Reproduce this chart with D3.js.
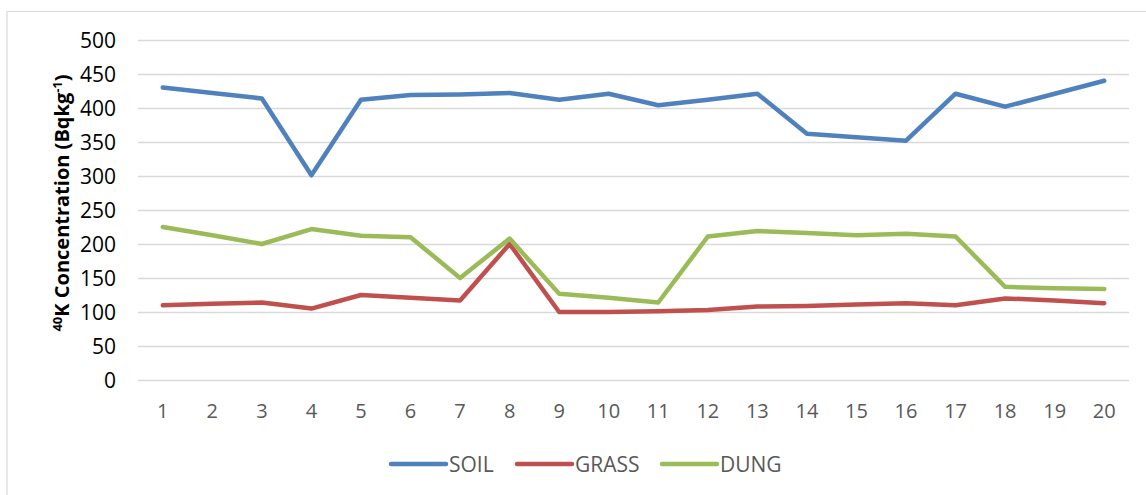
<!DOCTYPE html>
<html>
<head>
<meta charset="utf-8">
<script src="https://cdn.jsdelivr.net/npm/d3@7"></script>
<style>
  html, body { margin: 0; padding: 0; background: #fff; }
  svg { display: block; }
  text { font-family: "Open Sans", "Liberation Sans", sans-serif; }
</style>
</head>
<body>
<svg id="chart" width="1146" height="495"></svg>
<script>
const categories = [1,2,3,4,5,6,7,8,9,10,11,12,13,14,15,16,17,18,19,20];
const soil  = [430,422,414,301,412,419,420,422,412,421,404,412,421,362,357,352,421,402,421,440];
const grass = [110,112,114,105,125,121,117,200,100,100,101,103,108,109,111,113,110,120,117,113];
const dung  = [225,213,200,222,212,210,150,208,127,121,114,211,219,216,213,215,211,137,135,134];
const yTicks = [0,50,100,150,200,250,300,350,400,450,500];
const seriesNames = ["SOIL","GRASS","DUNG"];
const seriesColors = ["#4F81BD","#C0504D","#9BBB59"];
const seriesData = [soil, grass, dung];

const svg = d3.select("#chart");
const W = 1146, H = 495;
const plot = {left: 138, right: 1129, top: 40, bottom: 380};

// chart border (left & top visible)
svg.append("rect").attr("x", 7).attr("y", 11.5).attr("width", 1160).attr("height", 500)
  .attr("fill", "none").attr("stroke", "#D9D9D9").attr("stroke-width", 1.2);

const x = d3.scaleBand().domain(categories).range([plot.left, plot.right]);
const y = d3.scaleLinear().domain([0, 500]).range([plot.bottom, plot.top]);

// gridlines
const yAxis = d3.axisLeft(y).tickValues(yTicks).tickSize(-(plot.right - plot.left)).tickPadding(22);
const gy = svg.append("g").attr("transform", `translate(${plot.left},0)`).call(yAxis);
gy.select(".domain").remove();
gy.selectAll(".tick line").attr("stroke", "#D9D9D9").attr("stroke-width", 1.3);
gy.selectAll(".tick text").attr("fill", "#000").style("font-size", "21px").attr("dy", "0.36em");

const xAxis = d3.axisBottom(x).tickSize(0).tickPadding(24);
const gx = svg.append("g").attr("transform", `translate(0,${plot.bottom})`).call(xAxis);
gx.select(".domain").remove();
gx.selectAll(".tick text").attr("fill", "#595959").style("font-size", "20px");

// lines
const line = d3.line().x((d, i) => x(categories[i]) + x.bandwidth() / 2).y(d => y(d));
seriesData.forEach((s, k) => {
  svg.append("path").datum(s).attr("d", line)
    .attr("fill", "none").attr("stroke", seriesColors[k]).attr("stroke-width", 4.5)
    .attr("stroke-linejoin", "round").attr("stroke-linecap", "round");
});

// y axis title
const title = svg.append("text")
  .attr("transform", `translate(69,${(plot.top + plot.bottom) / 2 - 7}) rotate(-90)`)
  .attr("text-anchor", "middle").style("font-size", "20px").style("font-weight", "bold").attr("fill", "#000");
title.append("tspan").text("40").style("font-size", "13px").attr("dy", "-7");
title.append("tspan").text("K Concentration (Bqkg").attr("dy", "7");
title.append("tspan").text("-1").style("font-size", "13px").attr("dy", "-7");
title.append("tspan").text(")").attr("dy", "7");

// legend
const legendItems = [
  {name: seriesNames[0], color: seriesColors[0], x0: 391},
  {name: seriesNames[1], color: seriesColors[1], x0: 517},
  {name: seriesNames[2], color: seriesColors[2], x0: 662}
];
const lg = svg.append("g");
legendItems.forEach(it => {
  lg.append("line").attr("x1", it.x0).attr("x2", it.x0 + 55).attr("y1", 464).attr("y2", 464)
    .attr("stroke", it.color).attr("stroke-width", 4.5).attr("stroke-linecap", "round");
  lg.append("text").attr("x", it.x0 + 58).attr("y", 464).attr("dy", "0.36em")
    .attr("fill", "#595959").style("font-size", "21px").text(it.name);
});
</script>
</body>
</html>
